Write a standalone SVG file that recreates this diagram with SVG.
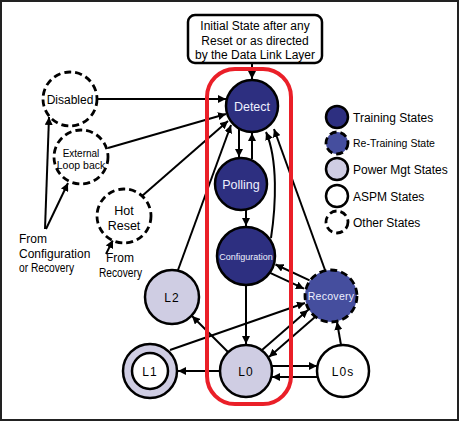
<svg xmlns="http://www.w3.org/2000/svg" width="460" height="422" viewBox="0 0 460 422">
<defs>
<marker id="ah" viewBox="0 0 10 10" refX="10" refY="5" markerWidth="8" markerHeight="8" markerUnits="userSpaceOnUse" orient="auto">
<path d="M0,0 L10,5 L0,10 z" fill="#000"/>
</marker>
</defs>
<style>
text{font-family:"Liberation Sans",Arial,sans-serif;}
.c{stroke:#000;stroke-width:2.5;}
.dash{stroke-dasharray:7,4;stroke-width:2.8;}
.train{fill:#2d2f80;}
.retrain{fill:#454e9e;}
.pm{fill:#cfcde3;}
.aspm{fill:#fff;}
.other{fill:#fff;}
.wt{fill:#eef0ff;text-anchor:middle;}
.bt{fill:#000;text-anchor:middle;}
.lg{fill:#000;font-size:12px;}
.ln{stroke:#000;stroke-width:2;fill:none;}
.arr{marker-end:url(#ah);}
</style>
<rect x="1" y="1" width="457" height="419" fill="#fff" stroke="#222" stroke-width="2"/>

<g id="connectors">
<line class="ln arr" x1="252" y1="63" x2="252" y2="79"/>
<line class="ln arr" x1="98" y1="99" x2="226" y2="99"/>
<line class="ln arr" x1="108" y1="148" x2="226" y2="114"/>
<line class="ln arr" x1="142" y1="196" x2="228" y2="121"/>
<line class="ln arr" x1="178" y1="270" x2="231" y2="125"/>
<line class="ln arr" x1="239" y1="129" x2="239" y2="157"/>
<line class="ln arr" x1="252" y1="159" x2="252" y2="133"/>
<line class="ln arr" x1="246" y1="210" x2="246" y2="226"/>
<path class="ln arr" d="M271,238 C276,205 278,160 266,132"/>
<line class="ln arr" x1="325" y1="270" x2="274" y2="129"/>
<line class="ln arr" x1="309.6" y1="280.4" x2="275.5" y2="264.5"/>
<line class="ln arr" x1="270.1" y1="272.9" x2="304" y2="288.7"/>
<line class="ln arr" x1="246" y1="285" x2="246" y2="344"/>
<line class="ln arr" x1="262" y1="350" x2="308" y2="310"/>
<line class="ln arr" x1="315" y1="317" x2="269" y2="357"/>
<line class="ln arr" x1="170" y1="350" x2="305" y2="303"/>
<line class="ln arr" x1="228" y1="352" x2="192" y2="316"/>
<line class="ln arr" x1="220" y1="371" x2="178" y2="371"/>
<line class="ln arr" x1="271.5" y1="366" x2="317" y2="366"/>
<line class="ln arr" x1="317.5" y1="377" x2="272" y2="377"/>
<line class="ln arr" x1="341" y1="345" x2="337" y2="322"/>
<line class="ln arr" x1="45" y1="229" x2="49" y2="117"/>
<line class="ln arr" x1="46" y1="229" x2="68" y2="183"/>
<line class="ln arr" x1="106" y1="254" x2="113" y2="240"/>
</g>

<rect id="highlight" x="207" y="69" width="84" height="335" rx="28" fill="none" stroke="#ea1f28" stroke-width="4"/>

<g id="initial">
<rect x="188" y="15" width="134" height="48" rx="7" fill="#fff" stroke="#000" stroke-width="2.5"/>
<text class="bt" x="255" y="29.5" font-size="12">Initial State after any</text>
<text class="bt" x="255" y="44.5" font-size="12">Reset or as directed</text>
<text class="bt" x="255" y="58.5" font-size="12">by the Data Link Layer</text>
</g>

<g id="detect">
<circle class="c train" cx="252" cy="106" r="26"/>
<text class="wt" x="252" y="110.5" font-size="12.5">Detect</text>
</g>
<g id="polling">
<circle class="c train" cx="241" cy="184" r="26"/>
<text class="wt" x="241" y="188.5" font-size="12.5">Polling</text>
</g>
<g id="configuration">
<circle class="c train" cx="246" cy="256" r="29"/>
<text class="wt" x="246" y="259.5" font-size="9">Configuration</text>
</g>
<g id="recovery">
<circle class="c retrain dash" cx="331" cy="296" r="26"/>
<text class="wt" x="331" y="300" font-size="10.5" letter-spacing="0.3">Recovery</text>
</g>
<g id="L0">
<circle class="c pm" cx="246" cy="371" r="26"/>
<text class="bt" x="246" y="375.5" font-size="12" letter-spacing="1">L0</text>
</g>
<g id="L0s">
<circle class="c aspm" cx="343" cy="371" r="26"/>
<text class="bt" x="343" y="375.5" font-size="12" letter-spacing="1">L0s</text>
</g>
<g id="L1">
<circle class="c pm" cx="150" cy="371" r="27"/>
<circle class="c" fill="#fff" cx="150" cy="371" r="18"/>
<text class="bt" x="150" y="375.5" font-size="12" letter-spacing="1">L1</text>
</g>
<g id="L2">
<circle class="c pm" cx="172" cy="297" r="27"/>
<text class="bt" x="172" y="301.5" font-size="12" letter-spacing="1">L2</text>
</g>
<g id="disabled">
<circle class="c other dash" cx="70" cy="99" r="27"/>
<text class="bt" x="70" y="103.5" font-size="12">Disabled</text>
</g>
<g id="external">
<circle class="c other dash" cx="81" cy="157" r="27"/>
<text class="bt" x="81" y="156.5" font-size="10">External</text>
<text class="bt" x="81" y="169" font-size="10.5">Loop back</text>
</g>
<g id="hotreset">
<circle class="c other dash" cx="124" cy="216" r="27"/>
<text class="bt" x="124" y="214.5" font-size="12.5">Hot</text>
<text class="bt" x="124" y="229.5" font-size="12.5">Reset</text>
</g>

<g id="labels">
<text x="19" y="242.5" font-size="12">From</text>
<text x="19" y="257.5" font-size="12">Configuration</text>
<text x="19" y="271.5" font-size="12" textLength="55" lengthAdjust="spacingAndGlyphs">or Recovery</text>
<text x="120" y="262" font-size="12" text-anchor="middle">From</text>
<text x="99" y="277" font-size="12" textLength="43" lengthAdjust="spacingAndGlyphs">Recovery</text>
</g>

<g id="legend">
<circle class="c train" cx="337" cy="117" r="11"/>
<text class="lg" x="353" y="121.5">Training States</text>
<circle class="c retrain dash" cx="337" cy="143" r="11"/>
<text class="lg" x="353" y="147" style="font-size:10.5px">Re-Training State</text>
<circle class="c pm" cx="337" cy="169" r="11"/>
<text class="lg" x="353" y="173.5">Power Mgt States</text>
<circle class="c aspm" cx="337" cy="196" r="11"/>
<text class="lg" x="353" y="200.5">ASPM States</text>
<circle class="c other dash" cx="337" cy="222" r="11"/>
<text class="lg" x="353" y="226.5">Other States</text>
</g>
</svg>
